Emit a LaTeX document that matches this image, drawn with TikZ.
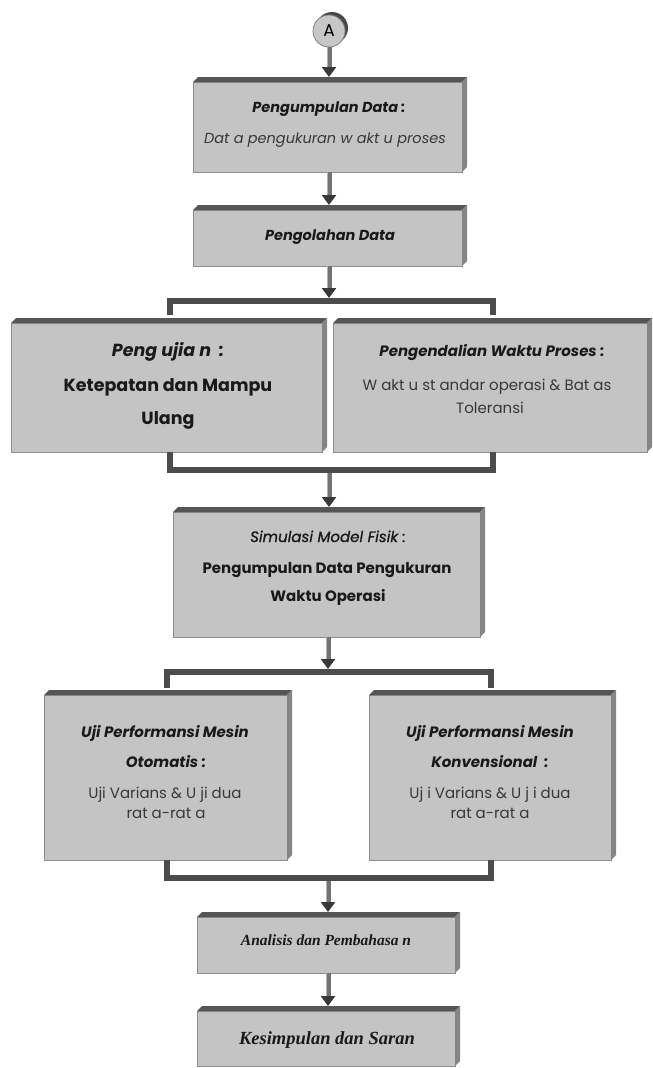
\documentclass[tikz,border=0pt]{standalone}
\usepackage{fontspec}
\setmainfont{Poppins}
\newfontfamily\popsemi[FakeBold=1]{Poppins}
\newfontfamily\timesbi{Liberation Serif}
\usetikzlibrary{arrows.meta,calc}
\definecolor{facegray}{HTML}{C4C4C4}
\definecolor{topgray}{HTML}{555555}
\definecolor{sidegray}{HTML}{858585}
\definecolor{edgegray}{HTML}{8E8E8E}
\definecolor{bargray}{HTML}{4C4C4C}

% font switches
\newcommand\fbi[1]{\fontsize{#1}{#1}\selectfont\bfseries\itshape}
\newcommand\fb[1]{\fontsize{#1}{#1}\selectfont\bfseries}
\newcommand\fit[1]{\fontsize{#1}{#1}\selectfont\itshape}
\newcommand\frm[1]{\fontsize{#1}{#1}\selectfont}

% raised top face and right face of a box
\newcommand\bevelbox[1]{%
  \fill[topgray] (#1.north west) -- ([shift={(5,-5)}]#1.north west)
     -- ([shift={(5,-5)}]#1.north east) -- (#1.north east) -- cycle;
  \fill[sidegray] (#1.north east) -- ([shift={(5,-5)}]#1.north east)
     -- ([shift={(5,-5)}]#1.south east) -- (#1.south east) -- cycle;}

\begin{document}
\begin{tikzpicture}[x=1pt,y=-1pt,
  box/.style={draw=edgegray, line width=0.8pt, fill=facegray, inner sep=0pt, outer sep=0pt},
  ln/.style={inner sep=0pt, anchor=base, text=black!90},
  lt/.style={ln, text=black!78},
  fat/.style={line width=5pt, draw=black!55,
     -{Triangle[width=14pt,length=10pt,color=black!78]},
     postaction={draw=black!30, line width=1.6pt, -, shorten >=10pt,
        transform canvas={xshift=-1.4pt}}},
  bar/.style={line width=6pt, draw=bargray, line join=miter}]
\useasboundingbox (0,0) rectangle (653,1068);

% boxes
\node[box, minimum width=269pt, minimum height=90pt]  (b1) at (327.5,127) {};
\node[box, minimum width=269pt, minimum height=56pt]  (b2) at (327.5,238) {};
\node[box, minimum width=311pt, minimum height=129pt] (b3) at (166.5,387.5) {};
\node[box, minimum width=314pt, minimum height=129pt] (b4) at (490,387.5) {};
\node[box, minimum width=307pt, minimum height=125pt] (b5) at (326.5,574.5) {};
\node[box, minimum width=243pt, minimum height=165pt] (b6) at (165.5,777.5) {};
\node[box, minimum width=242pt, minimum height=165pt] (b7) at (490,777.5) {};
\node[box, minimum width=258pt, minimum height=56pt]  (b8) at (326,945) {};
\node[box, minimum width=258pt, minimum height=55pt]  (b9) at (326,1038.5) {};
\foreach \n in {b1,b2,b3,b4,b5,b6,b7,b8,b9} {\bevelbox{\n}}

% connector circle
\fill[black!72] (332,28) circle (16);
\node[circle, draw=black!50, line width=0.8pt, fill=black!22, minimum size=32pt,
      inner sep=0pt, font=\frm{17}] (c) at (329,31) {A};

% top faces used as arrow targets
\foreach \n in {b1,b2,b5,b8,b9} {\coordinate (\n t) at ([yshift=5pt]\n.north);}
\coordinate (ax) at (329,0);
\coordinate (bx) at (328,0);
\coordinate (j1) at (329,298);
\coordinate (j1c) at (329,301);
\coordinate (j2) at (329,470);
\coordinate (j3) at (328,669);
\coordinate (j3c) at (328,672);
\coordinate (j4) at (328,878);

% arrows
\draw[fat] (c.south) -- (c.south |- b1t);
\draw[fat] (b1.south -| ax) -- (ax |- b2t);
\draw[fat] (b2.south -| ax) -- (j1);
\draw[fat, shorten <=3pt] (j2) -- (ax |- b5t);
\draw[fat] (b5.south -| bx) -- (j3);
\draw[fat, shorten <=3pt] (j4) -- (bx |- b8t);
\draw[fat] (b8.south -| bx) -- (bx |- b9t);

% split and join bars
\draw[bar] ([shift={(3,-8)}]b3.north) |- (j1c) -| ([shift={(3,-8)}]b4.north);
\draw[bar] ([xshift=3pt]b3.south) |- (j2) -| ([xshift=3pt]b4.south);
\draw[bar] ([shift={(1,-7)}]b6.north) |- (j3c) -| ([shift={(1,-7)}]b7.north);
\draw[bar] ([xshift=1pt]b6.south) |- (j4) -| ([xshift=1pt]b7.south);

% texts
\node[ln, font=\fbi{14.5}] (t1a) at (329,112) {Pengumpulan Data :};
\node[lt, font=\fit{14.5}] (t1b) at (325,143) {Dat a pengukuran w akt u proses};
\node[ln, font=\fbi{14.5}] (t2)  at (330,240) {Pengolahan Data};

\node[ln, font=\fbi{17.5}] (t3a) at (168,356) {Peng ujia n \ :};
\node[ln, font=\fb{17.5}]  (t3b) at (168,391) {Ketepatan dan Mampu};
\node[ln, font=\fb{17.5}]  (t3c) at (168,424) {Ulang};

\node[ln, font=\fbi{15}] (t4a) at (492,356) {Pengendalian Waktu Proses :};
\node[lt, font=\frm{15}] (t4b) at (487,390) {W akt u st andar operasi \& Bat as};
\node[lt, font=\frm{15}] (t4c) at (490,413) {Toleransi};

\node[ln, font=\popsemi\fit{15}] (t5a) at (328,542) {Simulasi Model Fisik :};
\node[ln, font=\fb{15}]  (t5b) at (327,573) {Pengumpulan Data Pengukuran};
\node[ln, font=\fb{15}]  (t5c) at (328,601) {Waktu Operasi};

\node[ln, font=\fbi{15}] (t6a) at (165,737) {Uji Performansi Mesin};
\node[ln, font=\fbi{15}] (t6b) at (166,767) {Otomatis :};
\node[lt, font=\frm{15}] (t6c) at (165,798) {Uji Varians \& U ji dua};
\node[lt, font=\frm{15}] (t6d) at (166,818) {rat a-rat a};

\node[ln, font=\fbi{15}] (t7a) at (490,737) {Uji Performansi Mesin};
\node[ln, font=\fbi{15}] (t7b) at (490,767) {Konvensional \ :};
\node[lt, font=\frm{15}] (t7c) at (490,798) {Uj i Varians \& U j i dua};
\node[lt, font=\frm{15}] (t7d) at (490,818) {rat a-rat a};

\node[ln, font=\timesbi\fbi{15.5}] (t8) at (326,945) {Analisis dan Pembahasa n};
\node[ln, font=\timesbi\fbi{18.5}] (t9) at (327,1044) {Kesimpulan dan Saran};
\end{tikzpicture}
\end{document}
